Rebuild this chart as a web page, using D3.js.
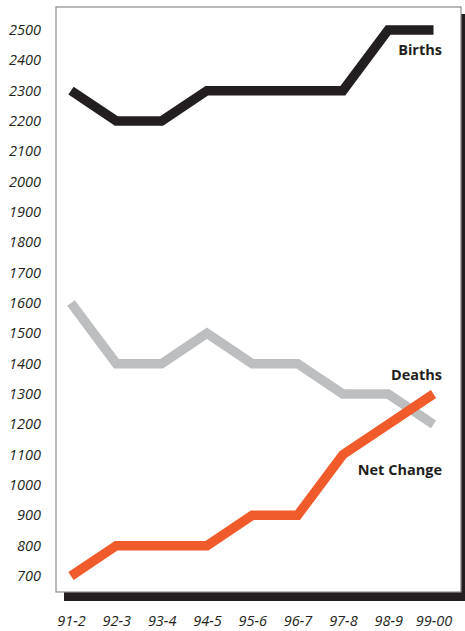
<!DOCTYPE html>
<html>
<head>
<meta charset="utf-8">
<script src="https://cdn.jsdelivr.net/npm/d3@7"></script>
<style>
  html, body { margin: 0; padding: 0; background: #fff; }
  svg { display: block; }
  .tick text { font-family: "Open Sans", "Noto Sans", sans-serif; font-style: italic; font-size: 14.5px; fill: #231f20; }
  .series-label { font-family: "Open Sans", "Noto Sans", sans-serif; font-weight: 700; font-size: 14.5px; fill: #231f20; }
</style>
</head>
<body>
<script>
// Population change by year
const periods = ["91-2", "92-3", "93-4", "94-5", "95-6", "96-7", "97-8", "98-9", "99-00"];
const births    = [2300, 2200, 2200, 2300, 2300, 2300, 2300, 2500, 2500];
const deaths    = [1600, 1400, 1400, 1500, 1400, 1400, 1300, 1300, 1200];
const netChange = [700, 800, 800, 800, 900, 900, 1100, 1200, 1300];
const yTicks = [700, 800, 900, 1000, 1100, 1200, 1300, 1400, 1500, 1600, 1700, 1800, 1900, 2000, 2100, 2200, 2300, 2400, 2500];
const seriesNames = ["Births", "Deaths", "Net Change"];

const W = 465, H = 631;
const frame = { x: 56, y: 7, w: 405, h: 585 };

const svg = d3.select("body").append("svg").attr("width", W).attr("height", H);

// drop shadow behind the plot frame
svg.append("rect")
  .attr("x", frame.x + 8).attr("y", frame.y + 7)
  .attr("width", frame.w).attr("height", frame.h + 2)
  .attr("fill", "#231f20");

svg.append("rect")
  .attr("x", frame.x).attr("y", frame.y)
  .attr("width", frame.w).attr("height", frame.h)
  .attr("fill", "#fff").attr("stroke", "#8a8a8a").attr("stroke-width", 1.2);

const x = d3.scalePoint().domain(periods).range([71, 433.5]);
const y = d3.scaleLinear().domain([700, 2500]).range([576, 30]);

// y axis labels
const yAxis = svg.append("g")
  .attr("transform", `translate(${frame.x},0)`)
  .call(d3.axisLeft(y).tickValues(yTicks).tickSize(0).tickPadding(15).tickFormat(d3.format("d")));
yAxis.select(".domain").remove();

// x axis labels
const xAxis = svg.append("g")
  .attr("transform", `translate(0,${frame.y + frame.h + 9})`)
  .call(d3.axisBottom(x).tickSize(0).tickPadding(15));
xAxis.select(".domain").remove();

const line = d3.line()
  .x((d, i) => x(periods[i]))
  .y(d => y(d));

const series = [
  { name: seriesNames[0], values: births,    color: "#231f20" },
  { name: seriesNames[1], values: deaths,    color: "#bcbec0" },
  { name: seriesNames[2], values: netChange, color: "#f15a2b" }
];

svg.selectAll("path.series")
  .data(series)
  .join("path")
  .attr("class", "series")
  .attr("d", d => line(d.values))
  .attr("fill", "none")
  .attr("stroke", d => d.color)
  .attr("stroke-width", 9.5)
  .attr("stroke-linejoin", "miter")
  .attr("stroke-linecap", "butt");

// series labels, placed beside the right end of each line
const labelX = 442;
const labels = [
  { text: seriesNames[0], y: y(2434) },
  { text: seriesNames[1], y: y(1363) },
  { text: seriesNames[2], y: y(1049) }
];
svg.selectAll("text.series-label")
  .data(labels)
  .join("text")
  .attr("class", "series-label")
  .attr("x", labelX)
  .attr("y", d => d.y)
  .attr("dy", "0.35em")
  .attr("text-anchor", "end")
  .text(d => d.text);
</script>
</body>
</html>
